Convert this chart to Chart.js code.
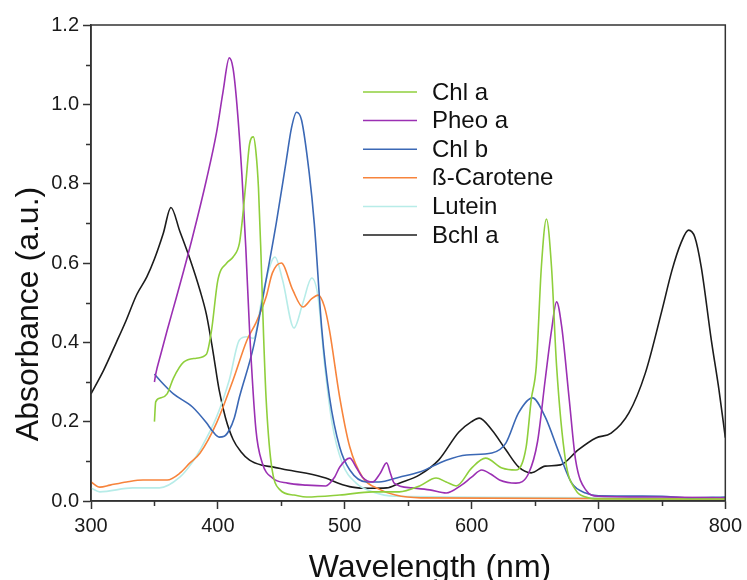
<!DOCTYPE html>
<html>
<head>
<meta charset="utf-8">
<script src="https://cdn.jsdelivr.net/npm/chart.js@4.4.1/dist/chart.umd.min.js"></script>
<style>
    html, body { margin: 0; padding: 0; background: #fff; }
    #wrap { width: 747px; height: 580px; position: relative; }
</style>
</head>
<body>
<div id="wrap"><canvas id="spectraChart" width="747" height="580"></canvas></div>
<script>
// Series labels
const seriesNames = ['Chl a', 'Pheo a', 'Chl b', 'ß-Carotene', 'Lutein', 'Bchl a'];

// Chl a
const chlaWl = [350, 351, 355, 360, 365, 373, 383, 391, 395, 400, 407, 412, 417, 419, 422, 425, 428, 430, 432, 434, 436, 438, 442, 449, 460, 470, 496, 522, 543, 559, 572, 580, 588, 600, 611, 624, 635, 643, 647, 651, 655, 659, 663, 667, 674, 682, 690, 700, 800];
const chlaAbs = [0.20, 0.25, 0.26, 0.27, 0.31, 0.35, 0.36, 0.37, 0.43, 0.557, 0.60, 0.615, 0.65, 0.70, 0.80, 0.90, 0.918, 0.88, 0.79, 0.62, 0.42, 0.26, 0.096, 0.028, 0.015, 0.01, 0.015, 0.023, 0.023, 0.038, 0.058, 0.048, 0.038, 0.083, 0.108, 0.083, 0.078, 0.136, 0.255, 0.34, 0.59, 0.711, 0.59, 0.34, 0.103, 0.028, 0.01, 0.005, 0.005];

// Pheo a
const pheoWl = [350, 351, 355, 360, 367, 373, 380, 391, 399, 404, 409, 412, 415, 419, 422, 425, 430, 435, 443, 455, 470, 485, 492, 496, 504, 509, 514, 522, 528, 533, 536, 539, 553, 567, 580, 592, 600, 608, 615, 622, 635, 645, 652, 658, 663, 667, 671, 677, 682, 690, 700, 750, 800];
const pheoAbs = [0.30, 0.32, 0.37, 0.43, 0.51, 0.58, 0.665, 0.81, 0.93, 1.03, 1.117, 1.09, 1.0, 0.82, 0.64, 0.43, 0.18, 0.096, 0.058, 0.045, 0.04, 0.038, 0.06, 0.085, 0.108, 0.085, 0.06, 0.048, 0.07, 0.096, 0.07, 0.045, 0.033, 0.028, 0.02, 0.04, 0.06, 0.078, 0.068, 0.053, 0.045, 0.07, 0.15, 0.305, 0.43, 0.502, 0.44, 0.255, 0.103, 0.028, 0.012, 0.01, 0.008];

// Chl b
const chlbWl = [350, 357, 365, 380, 391, 396, 401, 405, 409, 413, 417, 428, 438, 446, 454, 458, 462, 466, 472, 476, 482, 488, 496, 504, 517, 527, 543, 559, 580, 596, 616, 627, 637, 648, 658, 669, 679, 690, 700, 750, 770, 800];
const chlbAbs = [0.32, 0.295, 0.27, 0.237, 0.197, 0.175, 0.161, 0.163, 0.179, 0.21, 0.262, 0.388, 0.557, 0.70, 0.86, 0.94, 0.98, 0.96, 0.827, 0.70, 0.43, 0.262, 0.136, 0.078, 0.048, 0.048, 0.06, 0.073, 0.103, 0.116, 0.121, 0.146, 0.222, 0.26, 0.212, 0.121, 0.045, 0.02, 0.013, 0.012, 0.008, 0.01];

// ß-Carotene
const caroWl = [300, 307, 315, 328, 341, 360, 370, 378, 386, 399, 412, 423, 430, 438, 443, 450, 459, 467, 474, 479, 484, 488, 496, 504, 514, 527, 540, 560, 800];
const caroAbs = [0.048, 0.035, 0.04, 0.048, 0.053, 0.053, 0.07, 0.096, 0.121, 0.197, 0.305, 0.406, 0.449, 0.514, 0.575, 0.60, 0.532, 0.489, 0.51, 0.519, 0.49, 0.43, 0.262, 0.136, 0.06, 0.03, 0.015, 0.008, 0.005];

// Lutein
const lutWl = [300, 307, 333, 354, 370, 380, 386, 399, 409, 417, 423, 428, 436, 445, 451, 460, 467, 474, 479, 484, 490, 498, 509, 522, 540, 800];
const lutAbs = [0.033, 0.023, 0.033, 0.033, 0.06, 0.098, 0.129, 0.212, 0.305, 0.406, 0.414, 0.41, 0.532, 0.615, 0.557, 0.436, 0.499, 0.562, 0.514, 0.348, 0.197, 0.096, 0.045, 0.023, 0.012, 0.008];

// Bchl a
const bchlWl = [300, 310, 320, 327, 336, 344, 350, 357, 363, 370, 378, 386, 391, 396, 401, 406, 412, 418, 425, 435, 443, 455, 470, 485, 495, 506, 520, 533, 543, 559, 574, 590, 600, 606, 616, 627, 637, 647, 658, 670, 684, 698, 710, 724, 737, 750, 758, 765, 771, 776, 781, 789, 795, 800];
const bchlAbs = [0.27, 0.33, 0.40, 0.45, 0.52, 0.565, 0.61, 0.675, 0.74, 0.68, 0.61, 0.53, 0.47, 0.38, 0.28, 0.21, 0.155, 0.125, 0.103, 0.09, 0.086, 0.078, 0.07, 0.058, 0.045, 0.035, 0.032, 0.033, 0.045, 0.066, 0.103, 0.174, 0.2, 0.209, 0.179, 0.129, 0.086, 0.071, 0.088, 0.091, 0.129, 0.159, 0.171, 0.222, 0.323, 0.48, 0.582, 0.65, 0.683, 0.665, 0.59, 0.405, 0.28, 0.16];

// Axis ticks
const xTicks = [300, 400, 500, 600, 700, 800];
const xMinorTicks = [350, 450, 550, 650, 750];
const yTicks = [0.0, 0.2, 0.4, 0.6, 0.8, 1.0, 1.2];
const yMinorTicks = [0.1, 0.3, 0.5, 0.7, 0.9, 1.1];

const seriesColors = ['#8fcf3c', '#9b30b3', '#3b68b5', '#f7843c', '#b7ece8', '#1c1c1c'];
const FONT = "'Liberation Sans', Arial, sans-serif";
const AXIS = '#333333';

function toPoints(xs, ys) {
    return xs.map((x, i) => ({ x: x, y: ys[i] }));
}

const seriesData = [
    toPoints(chlaWl, chlaAbs),
    toPoints(pheoWl, pheoAbs),
    toPoints(chlbWl, chlbAbs),
    toPoints(caroWl, caroAbs),
    toPoints(lutWl, lutAbs),
    toPoints(bchlWl, bchlAbs)
];

// Frame, minor ticks, axis titles and legend
const decorPlugin = {
    id: 'decor',
    afterDraw(chart) {
        const ctx = chart.ctx;
        const a = chart.chartArea;
        const xs = chart.scales.x;
        const ys = chart.scales.y;
        ctx.save();
        ctx.strokeStyle = AXIS;
        ctx.lineWidth = 1.5;
        ctx.strokeRect(a.left, a.top, a.right - a.left, a.bottom - a.top);

        // minor ticks
        ctx.beginPath();
        yMinorTicks.forEach(v => {
            const py = Math.round(ys.getPixelForValue(v)) + 0.5;
            ctx.moveTo(a.left - 5, py);
            ctx.lineTo(a.left, py);
        });
        xMinorTicks.forEach(v => {
            const px = Math.round(xs.getPixelForValue(v)) + 0.5;
            ctx.moveTo(px, a.bottom);
            ctx.lineTo(px, a.bottom + 5);
        });
        ctx.stroke();

        // axis titles
        ctx.fillStyle = '#111';
        ctx.font = '32px ' + FONT;
        ctx.textAlign = 'center';
        ctx.textBaseline = 'alphabetic';
        ctx.fillText('Wavelength (nm)', 430, 577);
        ctx.translate(38, 314);
        ctx.rotate(-Math.PI / 2);
        ctx.fillText('Absorbance (a.u.)', 0, 0);
        ctx.restore();

        // legend
        ctx.save();
        ctx.font = '24px ' + FONT;
        ctx.textAlign = 'left';
        ctx.textBaseline = 'middle';
        chart.data.datasets.forEach((ds, i) => {
            const y = 92 + i * 28.6;
            ctx.strokeStyle = ds.borderColor;
            ctx.lineWidth = 1.5;
            ctx.beginPath();
            ctx.moveTo(363, y);
            ctx.lineTo(417, y);
            ctx.stroke();
            ctx.fillStyle = '#111';
            ctx.fillText(ds.label, 432, y + 1);
        });
        ctx.restore();
    }
};

const ctx = document.getElementById('spectraChart');
new Chart(ctx, {
    type: 'line',
    data: {
        datasets: seriesNames.map((name, i) => ({
            label: name,
            data: seriesData[i],
            borderColor: seriesColors[i],
            backgroundColor: seriesColors[i],
            borderWidth: 1.6,
            pointRadius: 0,
            fill: false,
            cubicInterpolationMode: 'monotone'
        }))
    },
    options: {
        responsive: false,
        animation: false,
        layout: { padding: { top: 25, right: 20, left: 0, bottom: 0 } },
        plugins: {
            legend: { display: false },
            tooltip: { enabled: false }
        },
        scales: {
            x: {
                type: 'linear',
                min: 300,
                max: 800,
                afterFit: s => { s.height = 79; },
                afterBuildTicks: s => { s.ticks = xTicks.map(v => ({ value: v })); },
                grid: { drawOnChartArea: false, drawTicks: true, tickLength: 8, color: AXIS, tickWidth: 1.5 },
                border: { display: true, color: AXIS, width: 1.5 },
                ticks: { color: '#1a1a1a', font: { family: FONT, size: 20 }, padding: 5, maxRotation: 0 }
            },
            y: {
                type: 'linear',
                min: 0,
                max: 1.2,
                afterFit: s => { s.width = 91; },
                afterBuildTicks: s => { s.ticks = yTicks.map(v => ({ value: v })); },
                grid: { drawOnChartArea: false, drawTicks: true, tickLength: 8, color: AXIS, tickWidth: 1.5 },
                border: { display: true, color: AXIS, width: 1.5 },
                ticks: {
                    color: '#1a1a1a',
                    font: { family: FONT, size: 20 },
                    padding: 4,
                    callback: v => Number(v).toFixed(1)
                }
            }
        }
    },
    plugins: [decorPlugin]
});
</script>
</body>
</html>
